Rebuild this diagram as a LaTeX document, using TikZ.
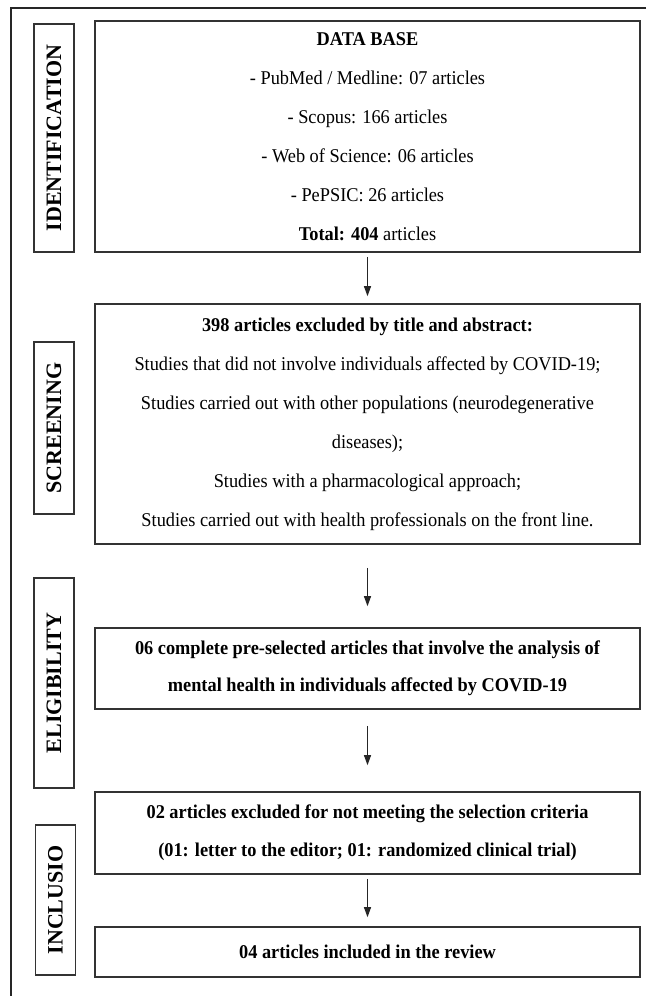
\documentclass[tikz,border=0pt]{standalone}
\usepackage{fontspec}
\setmainfont{Liberation Serif}[FakeStretch=0.94]
\newfontfamily\labelfont{Liberation Serif}
\usetikzlibrary{arrows.meta,positioning}

\begin{document}
\begin{tikzpicture}[x=1pt, y=-1pt,
    stagebox/.style={draw=black!80, line width=1.6pt, minimum width=545pt,
        inner sep=0pt, align=center, font=\fontsize{19.5}{39}\selectfont},
    sidelabel/.style={draw=black!80, line width=1.4pt, rotate=90,
        minimum height=40pt, inner sep=0pt, font=\labelfont\fontsize{22}{26}\selectfont\bfseries},
    flowarrow/.style={-{Triangle[length=10pt,width=7pt]}, line width=1pt, black!85}]
    \useasboundingbox (0,0) rectangle (646,996);

    % Outer frame (open at right and bottom)
    \draw[black!85, line width=1.2pt] (646,8) -- (11,8) -- (11,996);

    % Stage labels
    \node[sidelabel, minimum width=228pt] (lident) at (54,138) {IDENTIFICATION};
    \node[sidelabel, minimum width=172pt] (lscreen) at (54,428) {SCREENING};
    \node[sidelabel, minimum width=210pt] (lelig) at (54,683) {ELIGIBILITY};
    \node[sidelabel, minimum width=150pt] (lincl) at (55.5,900) {INCLUSIO};

    % Flow boxes
    \node[stagebox, minimum height=231pt] (dbase) at (367.5,136.5) {%
        \textbf{DATA BASE}\\
        - PubMed / Medline: 07 articles\\
        - Scopus: 166 articles\\
        - Web of Science: 06 articles\\
        - PePSIC: 26 articles\\
        \textbf{Total: 404} articles};
    \node[stagebox, minimum height=240pt] (screen) at (367.5,424) {%
        \textbf{398 articles excluded by title and abstract:}\\
        Studies that did not involve individuals affected by COVID-19;\\
        Studies carried out with other populations (neurodegenerative\\
        diseases);\\
        Studies with a pharmacological approach;\\
        Studies carried out with health professionals on the front line.};
    \node[stagebox, minimum height=81pt, font=\fontsize{19.5}{37}\selectfont\bfseries] (elig) at (367.5,668.5) {%
        06 complete pre-selected articles that involve the analysis of\\
        mental health in individuals affected by COVID-19};
    \node[stagebox, minimum height=82pt, font=\fontsize{19.5}{38}\selectfont\bfseries] (excl) at (367.5,833) {%
        02 articles excluded for not meeting the selection criteria\\
        (01: letter to the editor; 01: randomized clinical trial)};
    \node[stagebox, minimum height=50pt, font=\fontsize{19.5}{38}\selectfont\bfseries] (incl) at (367.5,952) {%
        04 articles included in the review};

    % Arrows between stages
    \draw[flowarrow, shorten <=4pt, shorten >=7pt] (dbase) -- (screen);
    \draw[flowarrow, shorten <=23pt, shorten >=21pt] (screen) -- (elig);
    \draw[flowarrow, shorten <=16pt, shorten >=26pt] (elig) -- (excl);
    \draw[flowarrow, shorten <=4pt, shorten >=9pt] (excl) -- (incl);
\end{tikzpicture}
\end{document}
